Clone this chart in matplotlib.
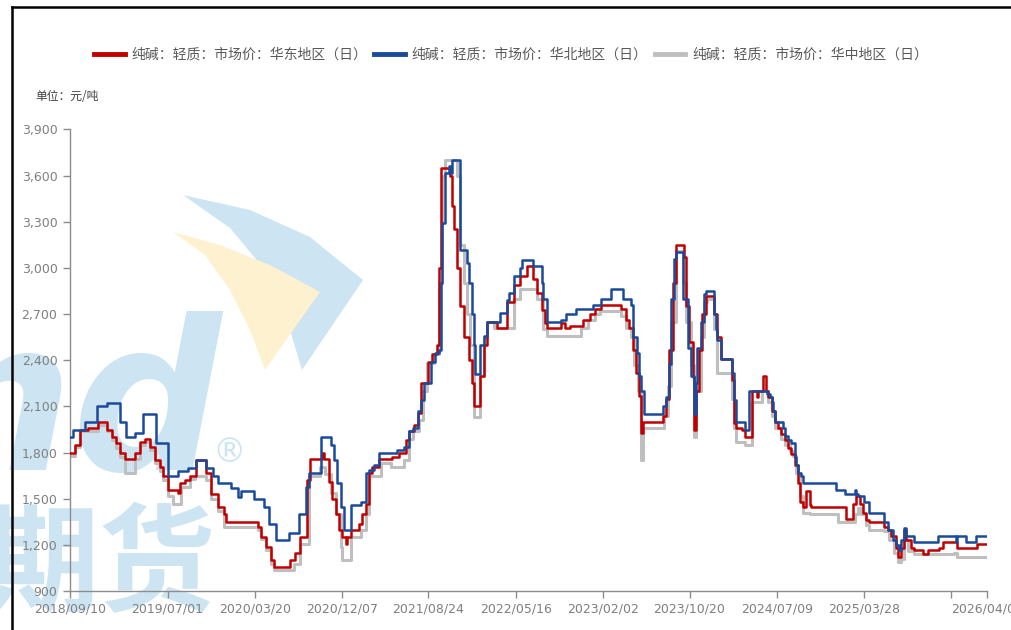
import numpy as np
import matplotlib
matplotlib.use("Agg")
import matplotlib.pyplot as plt
from matplotlib.lines import Line2D
from matplotlib.patches import Polygon

plt.rcParams['font.family'] = ['Noto Sans CJK SC', 'DejaVu Sans']

# ---------------- data (x = days since 2018-09-10, y = 元/吨) ----------------
start_date = '2018-09-10'
end_date = '2026-04-03'

east_day = [0, 15, 30, 55, 85, 110, 125, 140, 150, 165, 195, 210, 225, 240, 255, 270, 280, 295, 325, 330,
            345, 360, 380, 410, 425, 445, 465, 470, 565, 575, 590, 605, 615, 664, 679, 694, 714, 724, 760, 765,
            780, 790, 800, 810, 820, 830, 835, 845, 871, 881, 891, 901, 911, 931, 971, 991, 1012, 1022, 1037, 1047,
            1057, 1077, 1090, 1106, 1111, 1116, 1146, 1151, 1156, 1166, 1176, 1186, 1201, 1211, 1216, 1236, 1246, 1256, 1286, 1316,
            1336, 1356, 1376, 1396, 1406, 1421, 1431, 1436, 1480, 1490, 1505, 1545, 1565, 1580, 1600, 1660, 1675, 1685, 1695, 1705,
            1715, 1720, 1725, 1785, 1795, 1805, 1815, 1825, 1848, 1855, 1865, 1875, 1880, 1885, 1895, 1905, 1915, 1930, 1940, 1950,
            1960, 1995, 2000, 2005, 2023, 2033, 2053, 2068, 2073, 2088, 2095, 2103, 2113, 2123, 2133, 2143, 2153, 2163, 2173, 2183,
            2193, 2198, 2208, 2218, 2228, 2233, 2338, 2358, 2368, 2378, 2388, 2398, 2408, 2453, 2463, 2473, 2488, 2493, 2503, 2511,
            2518, 2533, 2543, 2568, 2583, 2618, 2628, 2673, 2733, 2762]
east_val = [1800, 1850, 1950, 1960, 2000, 1950, 1900, 1860, 1800, 1760, 1800, 1870, 1890, 1840, 1750, 1710, 1650, 1560, 1540, 1600,
            1620, 1650, 1750, 1670, 1530, 1450, 1400, 1350, 1320, 1255, 1190, 1100, 1060, 1100, 1150, 1250, 1620, 1760, 1800, 1760,
            1610, 1500, 1400, 1300, 1255, 1210, 1255, 1300, 1340, 1400, 1470, 1670, 1710, 1760, 1770, 1800, 1880, 1940, 1980, 2060,
            2250, 2390, 2440, 2500, 3000, 3650, 3600, 3400, 3250, 3000, 2750, 2550, 2400, 2250, 2100, 2300, 2500, 2650, 2610, 2780,
            2890, 2950, 3010, 2925, 2835, 2725, 2640, 2610, 2640, 2610, 2620, 2660, 2700, 2730, 2760, 2730, 2660, 2610, 2470, 2320,
            2170, 1930, 2000, 2040, 2150, 2470, 2900, 3150, 3070, 2750, 2520, 2290, 1950, 2200, 2470, 2700, 2820, 2820, 2700, 2550,
            2410, 2270, 1990, 1960, 1950, 1900, 2200, 2160, 2200, 2300, 2200, 2160, 2070, 2000, 1960, 1920, 1880, 1830, 1790, 1720,
            1600, 1480, 1450, 1550, 1460, 1450, 1370, 1470, 1520, 1470, 1410, 1360, 1350, 1320, 1300, 1260, 1180, 1120, 1180, 1300,
            1230, 1180, 1170, 1140, 1170, 1180, 1220, 1180, 1210, 1210]

north_day = [0, 10, 45, 80, 110, 150, 170, 195, 220, 260, 295, 325, 355, 380, 410, 430, 445, 485, 505, 515,
             555, 585, 600, 620, 659, 689, 710, 720, 755, 785, 795, 805, 815, 825, 845, 876, 891, 901, 916, 931,
             986, 1007, 1022, 1032, 1047, 1057, 1067, 1087, 1099, 1111, 1116, 1121, 1131, 1141, 1146, 1151, 1176, 1196, 1201, 1211,
             1216, 1221, 1236, 1246, 1256, 1296, 1316, 1321, 1336, 1356, 1361, 1396, 1421, 1426, 1436, 1480, 1495, 1525, 1575, 1600,
             1630, 1665, 1690, 1695, 1708, 1715, 1720, 1730, 1785, 1795, 1805, 1810, 1820, 1825, 1845, 1860, 1870, 1880, 1885, 1890,
             1900, 1910, 1915, 1940, 1945, 1950, 1960, 1995, 2000, 2005, 2033, 2045, 2093, 2098, 2108, 2113, 2118, 2123, 2148, 2153,
             2163, 2173, 2183, 2188, 2193, 2203, 2208, 2308, 2333, 2363, 2368, 2373, 2393, 2408, 2453, 2463, 2478, 2488, 2498, 2503,
             2511, 2518, 2543, 2613, 2668, 2673, 2698, 2728, 2762]
north_val = [1900, 1950, 2000, 2100, 2120, 2000, 1900, 1930, 2050, 1860, 1650, 1680, 1700, 1750, 1700, 1650, 1600, 1570, 1510, 1550,
             1500, 1450, 1340, 1230, 1280, 1400, 1580, 1670, 1900, 1850, 1750, 1600, 1450, 1300, 1460, 1480, 1670, 1690, 1720, 1800,
             1820, 1840, 1940, 1960, 2070, 2140, 2250, 2390, 2450, 2470, 2900, 3290, 3615, 3660, 3615, 3700, 3115, 3030, 2900, 2700,
             2500, 2310, 2500, 2560, 2650, 2705, 2790, 2835, 2950, 3000, 3050, 3010, 2900, 2800, 2650, 2660, 2700, 2730, 2760, 2800,
             2860, 2800, 2760, 2550, 2445, 2300, 2200, 2050, 2100, 2160, 2375, 2800, 3060, 3100, 2800, 2480, 2300, 2050, 2250, 2480,
             2650, 2830, 2850, 2700, 2600, 2530, 2410, 2320, 2140, 2000, 1950, 2200, 2200, 2180, 2160, 2130, 2070, 2000, 1960, 1910,
             1880, 1860, 1770, 1720, 1670, 1650, 1600, 1560, 1530, 1560, 1530, 1520, 1480, 1410, 1350, 1300, 1230, 1200, 1170, 1230,
             1310, 1260, 1220, 1260, 1220, 1260, 1220, 1260, 1260]

central_day = [0, 15, 30, 85, 110, 125, 140, 150, 165, 195, 210, 225, 240, 255, 270, 280, 295, 310, 335, 360,
               375, 410, 425, 445, 465, 565, 575, 590, 605, 615, 674, 694, 719, 754, 769, 785, 800, 815, 820, 845,
               876, 891, 901, 936, 966, 1007, 1022, 1032, 1052, 1062, 1076, 1096, 1111, 1121, 1131, 1166, 1176, 1186, 1196, 1206,
               1216, 1236, 1246, 1256, 1276, 1336, 1356, 1406, 1426, 1436, 1500, 1540, 1560, 1580, 1595, 1660, 1675, 1690, 1700, 1710,
               1720, 1725, 1780, 1790, 1800, 1810, 1825, 1845, 1855, 1870, 1880, 1885, 1900, 1910, 1920, 1940, 1950, 1995, 2000, 2005,
               2033, 2053, 2083, 2103, 2113, 2123, 2143, 2153, 2168, 2178, 2188, 2198, 2208, 2228, 2313, 2363, 2373, 2383, 2398, 2408,
               2453, 2468, 2483, 2493, 2503, 2513, 2523, 2543, 2663, 2673, 2762]
central_val = [1780, 1840, 1940, 1980, 1940, 1880, 1830, 1770, 1670, 1760, 1850, 1870, 1820, 1730, 1680, 1620, 1520, 1470, 1580, 1630,
               1650, 1620, 1500, 1420, 1320, 1300, 1240, 1170, 1080, 1040, 1080, 1210, 1650, 1710, 1660, 1540, 1400, 1190, 1100, 1255,
               1300, 1400, 1650, 1730, 1710, 1750, 1890, 1940, 2010, 2200, 2380, 2440, 2900, 3600, 3700, 3600, 3150, 2900, 2700, 2500,
               2030, 2300, 2550, 2650, 2610, 2800, 2860, 2800, 2600, 2560, 2560, 2610, 2660, 2700, 2720, 2690, 2610, 2550, 2370, 2200,
               1750, 1960, 1960, 2040, 2230, 2650, 3110, 2900, 2650, 2370, 1900, 2200, 2550, 2780, 2800, 2600, 2320, 2150, 1960, 1870,
               1850, 2130, 2200, 2130, 2040, 1960, 1890, 1850, 1810, 1780, 1670, 1520, 1410, 1400, 1350, 1400, 1440, 1400, 1330, 1300,
               1290, 1230, 1150, 1090, 1110, 1230, 1160, 1140, 1150, 1120, 1120]

series_names = ['纯碱：轻质：市场价：华东地区（日）',
                '纯碱：轻质：市场价：华北地区（日）',
                '纯碱：轻质：市场价：华中地区（日）']
series_colors = ['#C00000', '#1A4A99', '#BFBFBF']

tick_dates = ['2018-09-10', '2019-07-01', '2020-03-20', '2020-12-07', '2021-08-24', '2022-05-16',
              '2023-02-02', '2023-10-20', '2024-07-09', '2025-03-28', '2025-12-15', '2026-04-03']
tick_labels = ['2018/09/10', '2019/07/01', '2020/03/20', '2020/12/07', '2021/08/24', '2022/05/16',
               '2023/02/02', '2023/10/20', '2024/07/09', '2025/03/28', '', '2026/04/03']
y_ticks = [900, 1200, 1500, 1800, 2100, 2400, 2700, 3000, 3300, 3600, 3900]
unit_label = '单位：元/吨'

# ---------------- figure ----------------
W, H = 1011, 630
fig = plt.figure(figsize=(W / 100, H / 100), dpi=100)
fig.patch.set_facecolor('white')

def px(x, y):
    return (x / W, 1 - y / H)

# watermark (decorative background)
wm_blue = '#CDE5F2'
wm_yellow = '#FEF1CF'
blue_sail = [(183, 195), (250, 210), (310, 237), (363, 280), (302, 370), (290, 330), (265, 270), (230, 228)]
yellow_sail = [(173, 232), (220, 245), (270, 265), (320, 292), (265, 370), (250, 330), (230, 290), (205, 255)]
fig.add_artist(Polygon([px(*p) for p in blue_sail], closed=True, transform=fig.transFigure,
                       facecolor=wm_blue, edgecolor='none', zorder=-5))
fig.add_artist(Polygon([px(*p) for p in yellow_sail], closed=True, transform=fig.transFigure,
                       facecolor=wm_yellow, edgecolor='none', zorder=-4))
fig.text(*px(222, 470), 'nd', fontsize=150, fontweight='bold', fontstyle='oblique', color=wm_blue,
         ha='right', va='baseline', family='DejaVu Sans', zorder=-5)
fig.text(*px(229, 452), '®', fontsize=24, color=wm_blue, ha='center', va='center', family='DejaVu Sans', zorder=-5)
fig.text(*px(216, 568), '期货', fontsize=84, fontweight='bold', color=wm_blue, ha='right', va='center',
         family='Noto Sans CJK SC', zorder=-5)

# axes
ax = fig.add_axes([70 / W, 1 - 591.3 / H, (987 - 70) / W, (591.3 - 129.3) / H])
ax.set_facecolor('none')
ax.set_zorder(1)

start = np.datetime64(start_date)
def to_dates(days):
    return start + np.array(days).astype('timedelta64[D]')

ax.plot(to_dates(central_day), central_val, drawstyle='steps-post', color=series_colors[2], lw=2.2, zorder=2)
ax.plot(to_dates(east_day), east_val, drawstyle='steps-post', color=series_colors[0], lw=1.8, zorder=3)
ax.plot(to_dates(north_day), north_val, drawstyle='steps-post', color=series_colors[1], lw=1.8, zorder=4)

ax.set_xlim(np.datetime64(start_date), np.datetime64(end_date))
ax.set_ylim(900, 3900)
ax.set_yticks(y_ticks)
ax.set_yticklabels([f'{v:,}' for v in y_ticks])
ax.set_xticks([np.datetime64(d) for d in tick_dates])
ax.set_xticklabels(tick_labels)

for s in ['top', 'right']:
    ax.spines[s].set_visible(False)
for s in ['left', 'bottom']:
    ax.spines[s].set_color('#8C8C8C')
    ax.spines[s].set_linewidth(1.0)
ax.tick_params(axis='both', colors='#8C8C8C', labelcolor='#7F7F7F', length=5, width=1, labelsize=8.5)
ax.tick_params(axis='y', pad=4)
ax.tick_params(axis='x', pad=3)
for lab in ax.get_xticklabels() + ax.get_yticklabels():
    lab.set_family(['Liberation Sans Narrow', 'DejaVu Sans'])
    lab.set_fontsize(9)
ax.grid(False)

# legend
handles = [Line2D([], [], color=c, lw=3.5) for c in series_colors]
fig.legend(handles, series_names, loc='center', bbox_to_anchor=px(511, 55), ncol=3, frameon=False,
           fontsize=10, labelcolor='#595959', handlelength=2.2, handletextpad=0.5, columnspacing=0.5)

fig.text(*px(35, 96), unit_label, fontsize=8.5, color='#404040', ha='left', va='center')

# frame lines (left and top border)
fig.add_artist(Line2D([12 / W, 12 / W], [0, 1 - 7 / H], color='black', lw=1.8, transform=fig.transFigure))
fig.add_artist(Line2D([12 / W, 1], [1 - 7 / H, 1 - 7 / H], color='black', lw=1.8, transform=fig.transFigure))

fig.savefig('out.png', dpi=100, facecolor='white')
